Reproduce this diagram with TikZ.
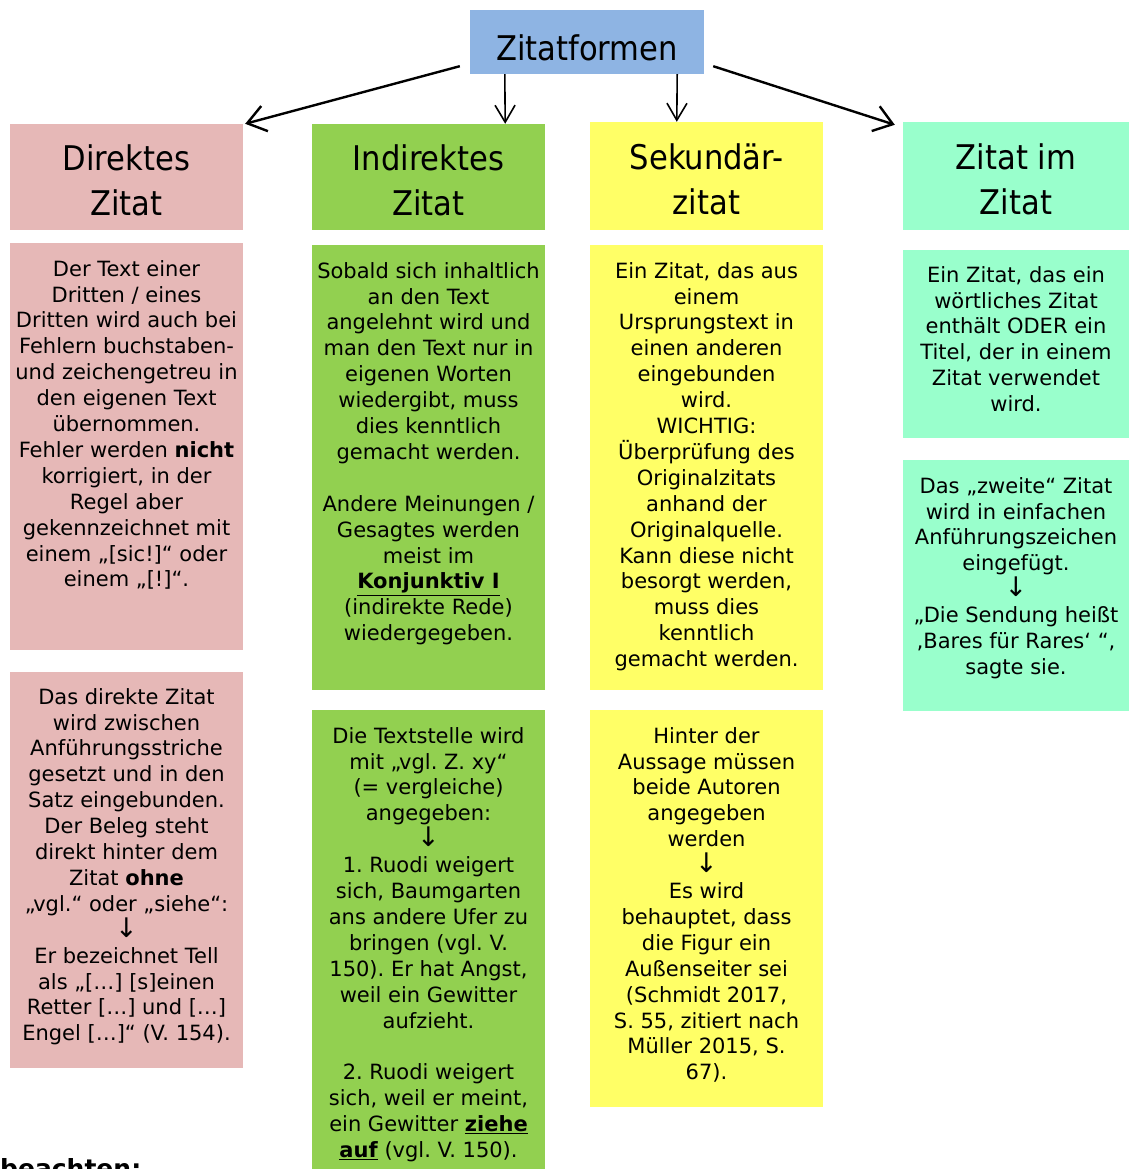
\documentclass[tikz,border=0pt]{standalone}
\usepackage{fontspec}
\setmainfont{DejaVu Sans}
\newfontfamily\headfont{DejaVu Sans Condensed}
\usetikzlibrary{arrows.meta}
\definecolor{formsblue}{HTML}{8EB4E3}
\definecolor{dirpink}{HTML}{E6B8B7}
\definecolor{indgreen}{HTML}{92D050}
\definecolor{sekyellow}{HTML}{FFFF66}
\definecolor{zizmint}{HTML}{99FFCC}
\newcommand{\down}{{\fontsize{27}{25.9}\selectfont ↓}}
\begin{document}
\begin{tikzpicture}[x=1pt, y=-1pt,
  head/.style={rectangle, align=center, font=\headfont\fontsize{34}{45}\selectfont},
  body/.style={align=center, inner sep=0pt, anchor=north, font=\fontsize{21}{25.9}\selectfont\frenchspacing},
  bigarrow/.style={-{Straight Barb[length=18pt,width=26pt]}, line width=2.4pt},
  smallarrow/.style={-{Straight Barb[length=17pt,width=20pt]}, line width=1.6pt}]
  \useasboundingbox (0,0) rectangle (1129,1169);
  \clip (0,0) rectangle (1129,1169);
  % Header boxes
  \node (FORMS) [head, fill=formsblue, minimum width=234, minimum height=64, text height=37, text depth=0] at (587,42) {Zitatformen};
  \node (DIR) [head, fill=dirpink, minimum width=233, minimum height=106] at (126.5,177) {\rule{0pt}{32pt}Direktes\\Zitat};
  \node (IND) [head, fill=indgreen, minimum width=233, minimum height=106] at (428.5,177) {\rule{0pt}{32pt}Indirektes\\Zitat};
  \node (SEK) [head, fill=sekyellow, minimum width=233, minimum height=108] at (706.5,176) {\rule{0pt}{32pt}Sekundär-\\zitat};
  \node (ZIZ) [head, fill=zizmint, minimum width=226, minimum height=108] at (1016,176) {\rule{0pt}{32pt}Zitat im\\Zitat};
  % Arrows
  \draw[bigarrow] ([xshift=-10pt,yshift=8pt]FORMS.south west) -- ([xshift=2pt]DIR.north east);
  \draw[smallarrow] ([xshift=35pt]FORMS.south west) -- ([xshift=-40pt]IND.north east);
  \draw[smallarrow] ([xshift=-27pt]FORMS.south east) -- ([xshift=87pt]SEK.north west);
  \draw[bigarrow] ([xshift=9pt,yshift=8pt]FORMS.south east) -- ([xshift=-8pt,yshift=-3pt]ZIZ.north west);
  % Text boxes
  \fill[dirpink] (10,243) rectangle (243,650);
  \fill[dirpink] (10,672) rectangle (243,1068);
  \fill[indgreen] (312,245) rectangle (545,690);
  \fill[indgreen] (312,710) rectangle (545,1169);
  \fill[sekyellow] (590,245) rectangle (823,690);
  \fill[sekyellow] (590,710) rectangle (823,1107);
  \fill[zizmint] (903,250) rectangle (1129,438);
  \fill[zizmint] (903,460) rectangle (1129,711);
  % Texts
  \node (DIR1) [body] at (126.5,260) {Der Text einer\\Dritten / eines\\Dritten wird auch bei\\Fehlern buchstaben-\\und zeichengetreu in\\den eigenen Text\\übernommen.\\Fehler werden \textbf{nicht}\\korrigiert, in der\\Regel aber\\gekennzeichnet mit\\einem „[sic!]“ oder\\einem „[!]“.};
  \node (DIR2) [body] at (126.5,688) {Das direkte Zitat\\wird zwischen\\Anführungsstriche\\gesetzt und in den\\Satz eingebunden.\\Der Beleg steht\\direkt hinter dem\\Zitat \textbf{ohne}\\„vgl.“ oder „siehe“:\\\down\\Er bezeichnet Tell\\als „[…] [s]einen\\Retter […] und […]\\Engel […]“ (V. 154).};
  \node (IND1) [body] at (428.5,262) {Sobald sich inhaltlich\\an den Text\\angelehnt wird und\\man den Text nur in\\eigenen Worten\\wiedergibt, muss\\dies kenntlich\\gemacht werden.\\[25.9pt]Andere Meinungen /\\Gesagtes werden\\meist im\\\underline{\textbf{Konjunktiv I}}\\(indirekte Rede)\\wiedergegeben.};
  \node (IND2) [body] at (428.5,727) {Die Textstelle wird\\mit „vgl. Z. xy“\\(= vergleiche)\\angegeben:\\\down\\1. Ruodi weigert\\sich, Baumgarten\\ans andere Ufer zu\\bringen (vgl. V.\\150). Er hat Angst,\\weil ein Gewitter\\aufzieht.\\[25.9pt]2. Ruodi weigert\\sich, weil er meint,\\ein Gewitter \underline{\textbf{ziehe}}\\\underline{\textbf{auf}} (vgl. V. 150).};
  \node (SEK1) [body] at (706.5,262) {Ein Zitat, das aus\\einem\\Ursprungstext in\\einen anderen\\eingebunden\\wird.\\WICHTIG:\\Überprüfung des\\Originalzitats\\anhand der\\Originalquelle.\\Kann diese nicht\\besorgt werden,\\muss dies\\kenntlich\\gemacht werden.};
  \node (SEK2) [body] at (706.5,727) {Hinter der\\Aussage müssen\\beide Autoren\\angegeben\\werden\\\down\\Es wird\\behauptet, dass\\die Figur ein\\Außenseiter sei\\(Schmidt 2017,\\S. 55, zitiert nach\\Müller 2015, S.\\67).};
  \node (ZIZ1) [body] at (1016,266) {Ein Zitat, das ein\\wörtliches Zitat\\enthält ODER ein\\Titel, der in einem\\Zitat verwendet\\wird.};
  \node (ZIZ2) [body] at (1016,477) {Das „zweite“ Zitat\\wird in einfachen\\Anführungszeichen\\eingefügt.\\\down\\„Die Sendung heißt\\‚Bares für Rares‘ “,\\sagte sie.};
  % Cut-off note
  \node (NOTE) [anchor=base west, inner sep=0pt, font=\bfseries\fontsize{25}{30}\selectfont] at (0,1177) {beachten:};
\end{tikzpicture}
\end{document}
